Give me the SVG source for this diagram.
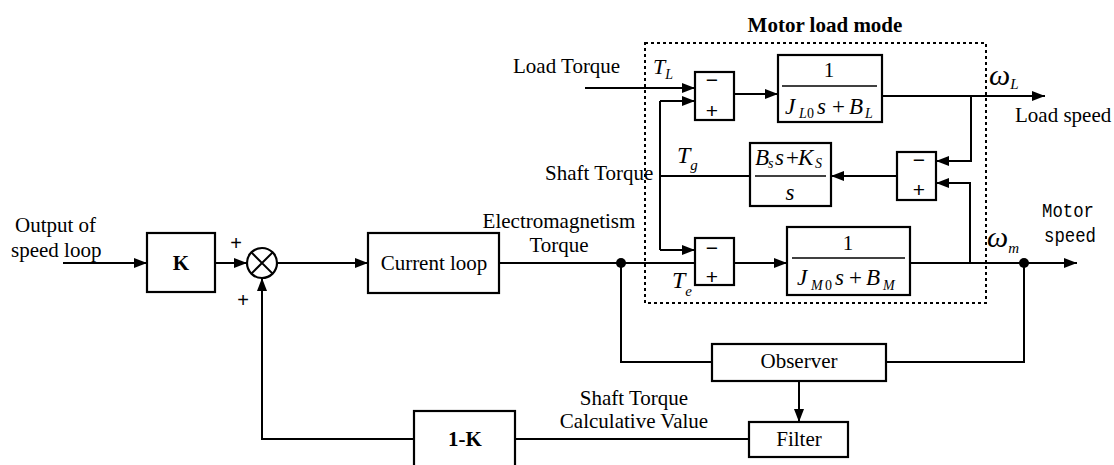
<svg xmlns="http://www.w3.org/2000/svg" width="1114" height="465" viewBox="0 0 1114 465">
<style>
.ln{stroke:#000;stroke-width:2;fill:none}
.bx{fill:#fff;stroke:#000;stroke-width:2.2}
.t{font-family:"Liberation Serif",serif;font-size:21px;fill:#000}
.b{font-weight:bold}
.mi{font-family:"Liberation Serif",serif;font-style:italic;fill:#000}
.sg{font-family:"Liberation Sans",sans-serif;font-size:21px;fill:#000;text-anchor:middle}
.pl{font-family:"Liberation Sans",sans-serif;font-size:20px;fill:#000;text-anchor:middle}
.mono{font-family:"Liberation Mono",monospace;font-size:20px;fill:#000}
.mid{text-anchor:middle}
</style>
<defs>
<marker id="ar" markerUnits="userSpaceOnUse" markerWidth="14" markerHeight="11" refX="13" refY="5" orient="auto">
<path d="M0,0 L13,5 L0,10 z" fill="#000"/>
</marker>
</defs>

<g id="motor-load-frame">
<rect x="645" y="43" width="341" height="260" fill="none" stroke="#000" stroke-width="2" stroke-dasharray="3,3"/>
<text class="t b mid" x="825" y="32">Motor load mode</text>
</g>

<g id="connectors">
<path class="ln" d="M63,263 H147" marker-end="url(#ar)"/>
<path class="ln" d="M215,263 H247" marker-end="url(#ar)"/>
<path class="ln" d="M277,263 H368" marker-end="url(#ar)"/>
<path class="ln" d="M499,263 H695"/>
<path class="ln" d="M621,263 V362 H712"/>
<path class="ln" d="M734,263 H787" marker-end="url(#ar)"/>
<path class="ln" d="M910,263 H1077" marker-end="url(#ar)"/>
<path class="ln" d="M1024,263 V362 H886"/>
<path class="ln" d="M799,381 V422" marker-end="url(#ar)"/>
<path class="ln" d="M749,439 H515"/>
<path class="ln" d="M414,439 H262 V278" marker-end="url(#ar)"/>
<path class="ln" d="M585,88 H695" marker-end="url(#ar)"/>
<path class="ln" d="M734,94 H778" marker-end="url(#ar)"/>
<path class="ln" d="M882,96 H1045" marker-end="url(#ar)"/>
<path class="ln" d="M971,96 V161 H936" marker-end="url(#ar)"/>
<path class="ln" d="M970,263 V183 H936" marker-end="url(#ar)"/>
<path class="ln" d="M897,176 H831" marker-end="url(#ar)"/>
<path class="ln" d="M750,176 H660"/>
<path class="ln" d="M660,101 V250"/>
<path class="ln" d="M660,101 H695" marker-end="url(#ar)"/>
<path class="ln" d="M660,250 H695" marker-end="url(#ar)"/>
<circle cx="621" cy="263" r="5" fill="#000"/>
<circle cx="1024" cy="263" r="5" fill="#000"/>
</g>

<g id="input-label">
<text class="t" x="15" y="232">Output of</text>
<text class="t" x="11" y="257">speed loop</text>
</g>

<g id="gain-K">
<rect class="bx" x="147" y="233" width="68" height="59"/>
<text class="t b mid" x="181" y="270">K</text>
</g>

<g id="summing-junction">
<circle cx="262" cy="263" r="15" fill="#fff" stroke="#000" stroke-width="2.2"/>
<path class="ln" d="M251.4,252.4 L272.6,273.6 M272.6,252.4 L251.4,273.6"/>
<text class="pl" x="236" y="250">+</text>
<text class="pl" x="243" y="307">+</text>
</g>

<g id="current-loop">
<rect class="bx" x="368" y="233" width="131" height="60"/>
<text class="t mid" x="434" y="270">Current loop</text>
</g>

<g id="em-torque-label">
<text class="t mid" x="559" y="228">Electromagnetism</text>
<text class="t mid" x="559" y="252">Torque</text>
</g>

<g id="load-torque-label">
<text class="t" x="513" y="73">Load Torque</text>
<text class="mi" x="653" y="74" font-size="22">T<tspan font-size="14" dy="5">L</tspan></text>
</g>

<g id="shaft-torque-label">
<text class="t" x="545" y="180">Shaft Torque</text>
<text class="mi" x="677" y="163" font-size="24">T<tspan font-size="15" dy="7">g</tspan></text>
</g>

<g id="te-label">
<text class="mi" x="672" y="288" font-size="24">T<tspan font-size="15" dy="8">e</tspan></text>
</g>

<g id="sum-load">
<rect class="bx" x="695" y="72" width="39" height="48"/>
<text class="sg" x="712" y="87">−</text>
<text class="sg" x="712" y="118">+</text>
</g>

<g id="sum-motor">
<rect class="bx" x="695" y="238" width="39" height="47"/>
<text class="sg" x="712" y="255">−</text>
<text class="sg" x="712" y="284">+</text>
</g>

<g id="sum-shaft">
<rect class="bx" x="897" y="152" width="39" height="48"/>
<text class="sg" x="919" y="167">−</text>
<text class="sg" x="919" y="197">+</text>
</g>

<g id="load-inertia">
<rect class="bx" x="778" y="55" width="104" height="67"/>
<text class="t mid" x="829" y="77">1</text>
<line x1="782" y1="86" x2="877" y2="86" stroke="#000" stroke-width="1.5"/>
<text class="mi" font-size="23" y="114"><tspan x="785">J</tspan><tspan x="799" y="118" font-size="14">L</tspan><tspan x="807" y="118" font-size="14" font-style="normal">0</tspan><tspan x="817" y="114">s</tspan><tspan x="832" y="114" font-style="normal">+</tspan><tspan x="849" y="114">B</tspan><tspan x="865" y="118" font-size="14">L</tspan></text>
</g>

<g id="shaft-stiffness">
<rect class="bx" x="750" y="143" width="81" height="63"/>
<text class="mi" font-size="23" y="165"><tspan x="755">B</tspan><tspan x="768" y="168" font-size="14">s</tspan><tspan x="775" y="165">s</tspan><tspan x="786" y="165" font-style="normal">+</tspan><tspan x="798" y="165">K</tspan><tspan x="815" y="168" font-size="14">S</tspan></text>
<line x1="755" y1="176" x2="826" y2="176" stroke="#000" stroke-width="1.5"/>
<text class="mi mid" font-size="23" x="790" y="200">s</text>
</g>

<g id="motor-inertia">
<rect class="bx" x="787" y="227" width="123" height="68"/>
<text class="t mid" x="848" y="250">1</text>
<line x1="792" y1="258" x2="905" y2="258" stroke="#000" stroke-width="1.5"/>
<text class="mi" font-size="23" y="285"><tspan x="797">J</tspan><tspan x="811" y="290" font-size="14">M</tspan><tspan x="825" y="290" font-size="14" font-style="normal">0</tspan><tspan x="835" y="285">s</tspan><tspan x="849" y="285" font-style="normal">+</tspan><tspan x="866" y="285">B</tspan><tspan x="883" y="290" font-size="14">M</tspan></text>
</g>

<g id="load-speed-label">
<text class="mi" x="989" y="85" font-size="30">ω<tspan font-size="15" dy="4">L</tspan></text>
<text class="t" x="1015" y="122">Load speed</text>
</g>

<g id="motor-speed-label">
<text class="mi" x="987" y="247" font-size="30">ω<tspan font-size="15" dy="6">m</tspan></text>
<text class="mono" x="1042" y="217" textLength="52" lengthAdjust="spacingAndGlyphs">Motor</text>
<text class="mono" x="1044" y="242" textLength="52" lengthAdjust="spacingAndGlyphs">speed</text>
</g>

<g id="observer">
<rect class="bx" x="712" y="344" width="174" height="37"/>
<text class="t mid" x="799" y="368">Observer</text>
</g>

<g id="filter">
<rect class="bx" x="749" y="422" width="99" height="35"/>
<text class="t mid" x="799" y="446">Filter</text>
</g>

<g id="shaft-calc-label">
<text class="t mid" x="634" y="405">Shaft Torque</text>
<text class="t mid" x="634" y="428">Calculative Value</text>
</g>

<g id="gain-1-K">
<rect class="bx" x="414" y="411" width="101" height="60"/>
<text class="t b mid" x="465" y="446">1-K</text>
</g>
</svg>
